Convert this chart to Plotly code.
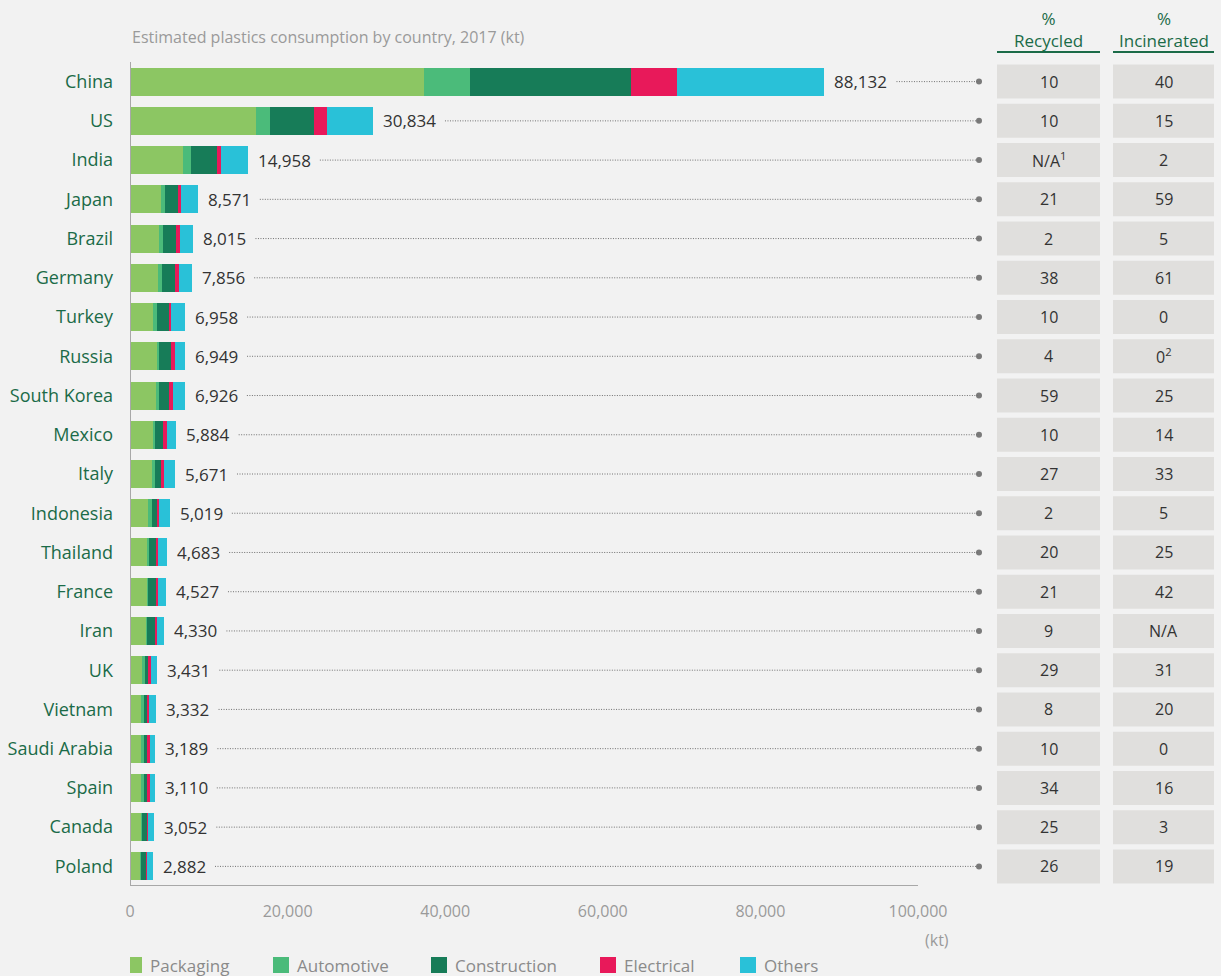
import plotly.graph_objects as go

countries = ["China", "US", "India", "Japan", "Brazil", "Germany", "Turkey", "Russia",
             "South Korea", "Mexico", "Italy", "Indonesia", "Thailand", "France", "Iran",
             "UK", "Vietnam", "Saudi Arabia", "Spain", "Canada", "Poland"]
totals = [88132, 30834, 14958, 8571, 8015, 7856, 6958, 6949, 6926, 5884, 5671, 5019,
          4683, 4527, 4330, 3431, 3332, 3189, 3110, 3052, 2882]
packaging = [37300, 16000, 6730, 3930, 3680, 3550, 2960, 3430, 3300, 2920, 2790, 2280,
             2160, 2160, 2030, 1520, 1520, 1520, 1520, 1400, 1270]
automotive = [5840, 1780, 1015, 510, 510, 510, 470, 250, 380, 250, 380, 510,
              250, 130, 130, 380, 250, 250, 250, 130, 130]
construction = [20430, 5580, 3260, 1610, 1650, 1650, 1520, 1520, 1270, 1015, 890, 760,
                890, 1015, 1015, 510, 510, 510, 510, 635, 635]
electrical = [5840, 1650, 550, 420, 470, 510, 250, 510, 510, 510, 250, 130,
              250, 250, 250, 250, 130, 250, 250, 130, 130]
others = [18722, 5824, 3403, 2101, 1705, 1636, 1758, 1239, 1466, 1189, 1361, 1339,
          1133, 972, 905, 771, 922, 659, 580, 757, 717]
recycled = ["10", "10", "N/A<sup>1</sup>", "21", "2", "38", "10", "4", "59", "10", "27",
            "2", "20", "21", "9", "29", "8", "10", "34", "25", "26"]
incinerated = ["40", "15", "2", "59", "5", "61", "0", "0<sup>2</sup>", "25", "14", "33",
               "5", "25", "42", "N/A", "31", "20", "0", "16", "3", "19"]
series_names = ["Packaging", "Automotive", "Construction", "Electrical", "Others"]
series_colors = ["#8cc663", "#4bbb7a", "#177c58", "#e8195a", "#29c1d8"]
xtick_vals = [0, 20000, 40000, 60000, 80000, 100000]

FONT = "Open Sans"
W, H = 1221, 976
ML, MT, MB = 130, 62, 90
PW = W - ML
PX_PER_KT = 788 / 100000
XMAX = PW / PX_PER_KT
n = len(countries)
PH = H - MT - MB
row_px = PH / n


def px2x(px):
    return (px - ML) / PX_PER_KT


def py2paper(py):
    return (H - MB - py) / PH


ys = list(range(n))
fig = go.Figure()
for name, vals, col in zip(series_names, [packaging, automotive, construction, electrical, others], series_colors):
    fig.add_trace(go.Bar(y=ys, x=vals, orientation="h", name=name,
                         marker=dict(color=col, line=dict(width=0)), showlegend=False,
                         hoverinfo="x+name"))


def text_w(s):
    w = 0
    for ch in s:
        w += 4.5 if ch == "," else 9.7
    return w


shapes = []
annotations = []
dot_x = px2x(979)
for i, t in enumerate(totals):
    lab = f"{t:,}"
    annotations.append(dict(x=t, y=i, xref="x", yref="y", text=lab, showarrow=False,
                            xanchor="left", yanchor="middle", xshift=8,
                            font=dict(family=FONT, size=17, color="#333333")))
    start_px = ML + t * PX_PER_KT + 10 + text_w(lab) + 9
    shapes.append(dict(type="line", xref="x", yref="y", x0=px2x(start_px), x1=dot_x, y0=i, y1=i,
                       line=dict(color="#707070", width=1, dash="1px,1.5px"), layer="above"))
    hb = 17 / row_px
    for (x0p, x1p, txt) in [(997, 1100, recycled[i]), (1113, 1214, incinerated[i])]:
        shapes.append(dict(type="rect", xref="x", yref="y", x0=px2x(x0p), x1=px2x(x1p),
                           y0=i - hb, y1=i + hb, fillcolor="#e0dfdd", line=dict(width=0), layer="below"))
        annotations.append(dict(x=px2x((x0p + x1p) / 2), y=i, xref="x", yref="y", text=txt,
                                showarrow=False, xanchor="center", yanchor="middle",
                                font=dict(family=FONT, size=16, color="#333333")))

fig.add_trace(go.Scatter(x=[dot_x] * n, y=ys, mode="markers", showlegend=False, hoverinfo="skip",
                         marker=dict(size=6, color="#7a7a7a")))

# axis lines
shapes.append(dict(type="line", xref="x", yref="y", x0=0, x1=100000, y0=n - 0.5, y1=n - 0.5,
                   line=dict(color="#a8a8a8", width=2), layer="above"))
shapes.append(dict(type="line", xref="x", yref="y", x0=0, x1=0, y0=-0.5, y1=n - 0.5,
                   line=dict(color="#a8a8a8", width=2), layer="above"))

# headers
for (x0p, x1p, txt) in [(997, 1100, "%<br>Recycled"), (1113, 1214, "%<br>Incinerated")]:
    annotations.append(dict(x=px2x((x0p + x1p) / 2), y=py2paper(29), xref="x", yref="paper",
                            text=txt, showarrow=False, xanchor="center", yanchor="middle",
                            font=dict(family=FONT, size=17, color="#1b6b48")))
    shapes.append(dict(type="line", xref="x", yref="paper", x0=px2x(x0p), x1=px2x(x1p),
                       y0=py2paper(52), y1=py2paper(52), line=dict(color="#1b6b48", width=2)))

# title
annotations.append(dict(x=0, y=py2paper(37), xref="x", yref="paper", xanchor="left", yanchor="middle",
                        text="Estimated plastics consumption by country, 2017 (kt)", showarrow=False,
                        font=dict(family=FONT, size=16, color="#9a9a9a")))
# unit
annotations.append(dict(x=px2x(951), y=py2paper(940), xref="x", yref="paper", xanchor="right",
                        yanchor="middle", text="(kt)", showarrow=False,
                        font=dict(family=FONT, size=16, color="#9a9a9a")))

# legend
leg_x = [126, 273, 431, 600, 740]
for name, col, lx in zip(series_names, series_colors, leg_x):
    shapes.append(dict(type="rect", xref="x", yref="paper", x0=px2x(lx), x1=px2x(lx + 16),
                       y0=py2paper(957), y1=py2paper(973), fillcolor=col, line=dict(width=0)))
    annotations.append(dict(x=px2x(lx + 22), y=py2paper(965), xref="x", yref="paper", xanchor="left",
                            yanchor="middle", text=name, showarrow=False,
                            font=dict(family=FONT, size=17, color="#8a8a8a")))

fig.update_layout(
    width=W, height=H, barmode="stack", bargap=0.286,
    paper_bgcolor="#f2f2f2", plot_bgcolor="#f2f2f2",
    margin=dict(l=ML, r=0, t=MT, b=MB, autoexpand=False),
    font=dict(family=FONT),
    shapes=shapes, annotations=annotations,
    xaxis=dict(range=[0, XMAX], tickvals=xtick_vals, ticktext=[f"{v:,}" for v in xtick_vals],
               showgrid=False, zeroline=False, showline=False, ticks="", ticklabelstandoff=14,
               tickfont=dict(family=FONT, size=16, color="#9a9a9a"), fixedrange=True),
    yaxis=dict(range=[n - 0.5, -0.5], tickvals=ys, ticktext=countries, showgrid=False,
               zeroline=False, showline=False, ticks="", ticklabelstandoff=16,
               tickfont=dict(family=FONT, size=18, color="#1b6b48"), fixedrange=True),
)

fig.write_html("out.html", config={"displayModeBar": False},
               post_script="document.body.style.margin='0';document.body.style.background='#f2f2f2';")
